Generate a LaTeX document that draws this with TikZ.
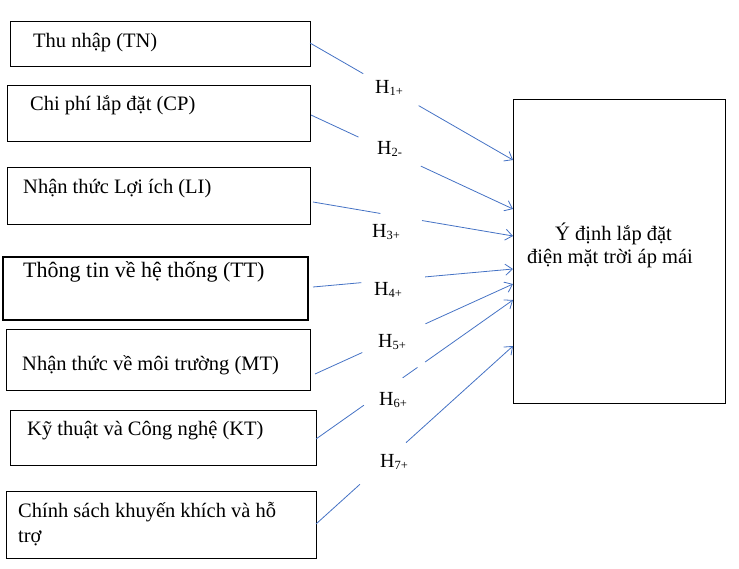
\documentclass[tikz,border=0pt]{standalone}
\usepackage{fontspec}
\setmainfont{Liberation Serif}
\usetikzlibrary{arrows.meta,calc}
\definecolor{connblue}{HTML}{4472C4}
\newcommand{\hsub}[1]{H\raisebox{-2.5pt}{\fontsize{12.5}{13}\selectfont #1}}
\begin{document}
\begin{tikzpicture}[x=1pt,y=-1pt,
  box/.style={draw=black,line width=0.8pt,anchor=north west,inner sep=0pt,outer sep=0pt},
  txt/.style={anchor=base west,inner sep=0pt,font=\fontsize{20.5}{24}\selectfont},
  hyp/.style={anchor=base west,inner sep=0pt,font=\fontsize{20}{24}\selectfont},
  conn/.style={draw=connblue,line width=0.8pt},
  tip/.style={-{Straight Barb[length=7pt,width=11pt]}}]
\useasboundingbox (0,0) rectangle (739,568);

% boxes
\node[box,minimum width=300pt,minimum height=45pt] (b1) at (10,21) {};
\node[box,minimum width=303pt,minimum height=56pt] (b2) at (7,85) {};
\node[box,minimum width=303pt,minimum height=57pt] (b3) at (7,167) {};
\node[box,line width=2pt,minimum width=305pt,minimum height=63pt] (b4) at (3,257) {};
\node[box,minimum width=304pt,minimum height=61pt] (b5) at (6,329) {};
\node[box,minimum width=306pt,minimum height=55pt] (b6) at (10,410) {};
\node[box,minimum width=310pt,minimum height=67pt] (b7) at (6,491) {};
\node[box,minimum width=212pt,minimum height=304pt] (Y) at (513,99) {};

% texts
\node[txt] (t1) at (33,47) {Thu nhập (TN)};
\node[txt] (t2) at (30,110) {Chi phí lắp đặt (CP)};
\node[txt] (t3) at (23,193) {Nhận thức Lợi ích (LI)};
\node[txt,font=\fontsize{22}{26}\selectfont] (t4) at (23,277) {Thông tin về hệ thống (TT)};
\node[txt] (t5) at (22,370) {Nhận thức về môi trường (MT)};
\node[txt] (t6) at (27,435) {Kỹ thuật và Công nghệ (KT)};
\node[txt] (t7) at (18,517) {Chính sách khuyến khích và hỗ};
\node[txt] (t7b) at (18,542) {trợ};
\node[txt] (ty1) at (555,240) {Ý định lắp đặt};
\node[txt] (ty2) at (527,263) {điện mặt trời áp mái};

% hypothesis labels
\node[hyp] (h1) at (375,93) {\hsub{1+}};
\node[hyp] (h2) at (377,154) {\hsub{2-}};
\node[hyp] (h3) at (372,237) {\hsub{3+}};
\node[hyp] (h4) at (374,295) {\hsub{4+}};
\node[hyp] (h5) at (378,347) {\hsub{5+}};
\node[hyp] (h6) at (379,405) {\hsub{6+}};
\node[hyp] (h7) at (380,467) {\hsub{7+}};

% connector end points
\coordinate (a1) at ($(b1.north east)+(0,22)$);
\coordinate (a2) at ($(b2.north east)+(1,30)$);
\coordinate (a3) at ($(b3.north east)+(3,35)$);
\coordinate (a4) at ($(b4.north east)+(5,30)$);
\coordinate (a5) at ($(b5.north east)+(5,45)$);
\coordinate (a6) at ($(b6.north east)+(0,29)$);
\coordinate (a7) at ($(b7.north east)+(0,33)$);
\coordinate (e1) at ($(Y.north west)+(0,61)$);
\coordinate (e2) at ($(Y.north west)+(0,110)$);
\coordinate (e3) at ($(Y.north west)+(0,137)$);
\coordinate (e4) at ($(Y.north west)+(0,170)$);
\coordinate (e5) at ($(Y.north west)+(0,185)$);
\coordinate (e6) at ($(Y.north west)+(0,201)$);
\coordinate (e7) at ($(Y.north west)+(0,247)$);

% connectors (broken where the labels sit)
\draw[conn] (a1) -- ($(a1)!.262!(e1)$);
\draw[conn,tip] ($(a1)!.535!(e1)$) -- (e1);
\draw[conn] (a2) -- ($(a2)!.235!(e2)$);
\draw[conn,tip] ($(a2)!.544!(e2)$) -- (e2);
\draw[conn] (a3) -- ($(a3)!.337!(e3)$);
\draw[conn,tip] ($(a3)!.545!(e3)$) -- (e3);
\draw[conn] (a4) -- ($(a4)!.242!(e4)$);
\draw[conn,tip] ($(a4)!.561!(e4)$) -- (e4);
\draw[conn] (a5) -- ($(a5)!.239!(e5)$);
\draw[conn,tip] ($(a5)!.558!(e5)$) -- (e5);
\draw[conn] (a6) -- ($(a6)!.243!(e6)$);
\draw[conn] ($(a6)!.44!(e6)$) -- ($(a6)!.515!(e6)$);
\draw[conn,tip] ($(a6)!.554!(e6)$) -- (e6);
\draw[conn] (a7) -- ($(a7)!.223!(e7)$);
\draw[conn,tip] ($(a7)!.457!(e7)$) -- (e7);
\end{tikzpicture}
\end{document}
